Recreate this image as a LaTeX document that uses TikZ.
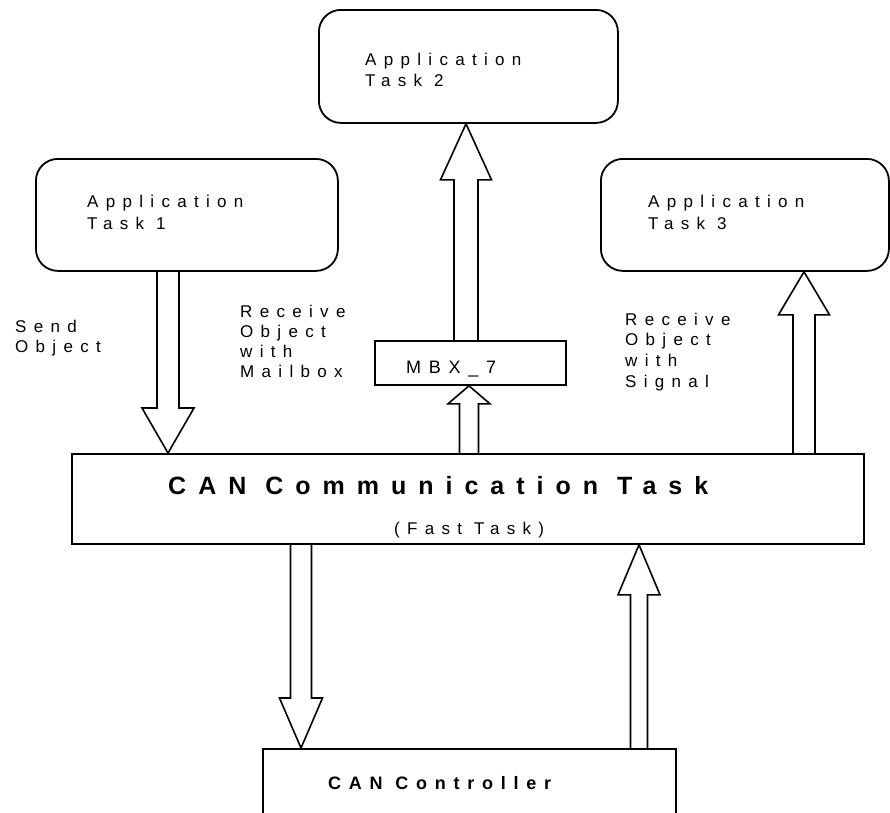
\documentclass[tikz,border=0pt]{standalone}
\usepackage{fontspec}
\setmainfont{Liberation Sans}
\newfontfamily\spaced{Liberation Sans}[LetterSpace=43]
\newfontfamily\spacedwide{Liberation Sans}[LetterSpace=48]
\usetikzlibrary{calc}

\tikzset{
  taskbox/.style={draw, line width=1.8pt, rounded corners=22pt, inner sep=0pt, anchor=north west},
  plainbox/.style={draw, line width=1.8pt, inner sep=0pt, anchor=north west},
  lbl/.style={anchor=base west, inner sep=0pt, font=\spaced\fontsize{17}{21}\selectfont},
  boldlbl/.style={anchor=base west, inner sep=0pt, font=\spaced\bfseries},
  arrowline/.style={draw, line width=1.6pt, line join=miter},
}

% vertical block arrow: from, tip, half shaft width, half head width, head length
\newcommand\blockarrow[5]{%
  \coordinate (ba-base) at ($(#2)!#5!(#1)$);
  \path[arrowline] ($(#1)+(-#3,0)$) -- ($(ba-base)+(-#3,0)$) -- ($(ba-base)+(-#4,0)$)
    -- (#2) -- ($(ba-base)+(#4,0)$) -- ($(ba-base)+(#3,0)$) -- ($(#1)+(#3,0)$);
}

\begin{document}
\begin{tikzpicture}[x=1pt, y=-1pt]
\useasboundingbox (0,0) rectangle (890,812);
\clip (0,0) rectangle (890,812);

% boxes
\node[taskbox, minimum width=302pt, minimum height=112pt] (t1) at (35,158) {};
\node[taskbox, minimum width=299pt, minimum height=113pt] (t2) at (318,9) {};
\node[taskbox, minimum width=288pt, minimum height=112pt] (t3) at (600,158) {};
\node[plainbox, minimum width=191pt, minimum height=44pt] (mbx) at (374,340) {};
\node[plainbox, minimum width=792pt, minimum height=90pt] (comm) at (71,453) {};
\node[plainbox, minimum width=413pt, minimum height=100pt] (ctrl) at (262,748) {};

% box texts
\node[lbl] (t1txt) at (87,207) {\vtop{\baselineskip=22pt\hbox{Application}\hbox{Task 1}}};
\node[lbl] (t2txt) at (365,65) {\vtop{\baselineskip=21pt\hbox{Application}\hbox{Task 2}}};
\node[lbl] (t3txt) at (648,207) {\vtop{\baselineskip=22pt\hbox{Application}\hbox{Task 3}}};
\node[lbl, font=\spaced\fontsize{18}{21}\selectfont] (mbxtxt) at (406,373) {MBX\_7};
\node[boldlbl, font=\spacedwide\bfseries\fontsize{25}{30}\selectfont] (title) at (168,494) {CAN Communication Task};
\node[lbl] (fast) at (394,534) {(Fast Task)};
\node[boldlbl, font=\spaced\bfseries\fontsize{18}{22}\selectfont] (ctrltxt) at (328,789) {CAN Controller};

% side labels
\node[lbl] (send) at (15,332) {\vtop{\baselineskip=20pt\hbox{Send}\hbox{Object}}};
\node[lbl] (mail) at (240,317) {\vtop{\baselineskip=20pt\hbox{Receive}\hbox{Object}\hbox{with}\hbox{Mailbox}}};
\node[lbl] (sig) at (625,325) {\vtop{\baselineskip=20.7pt\hbox{Receive}\hbox{Object}\hbox{with}\hbox{Signal}}};

% arrow end points
\coordinate (a1s) at (t1.south -| 168,0);
\coordinate (a1e) at (comm.north -| 168,0);
\coordinate (a2s) at (mbx.north -| 466,0);
\coordinate (a2e) at (t2.south -| 466,0);
\coordinate (a3s) at (comm.north -| 469,0);
\coordinate (a3e) at (mbx.south -| 469,0);
\coordinate (a4s) at (comm.north -| 804,0);
\coordinate (a4e) at (t3.south -| 804,0);
\coordinate (a5s) at (comm.south -| 301,0);
\coordinate (a5e) at (ctrl.north -| 301,0);
\coordinate (a6s) at (ctrl.north -| 639,0);
\coordinate (a6e) at (comm.south -| 639,0);

% block arrows
\blockarrow{a1s}{a1e}{11}{26}{45pt}
\blockarrow{a2s}{a2e}{12}{25.5}{56pt}
\blockarrow{a3s}{a3e}{9.5}{21}{18pt}
\blockarrow{a4s}{a4e}{11}{25.5}{43pt}
\blockarrow{a5s}{a5e}{10.5}{21.5}{50pt}
\blockarrow{a6s}{a6e}{8.5}{21}{50pt}
\end{tikzpicture}
\end{document}
